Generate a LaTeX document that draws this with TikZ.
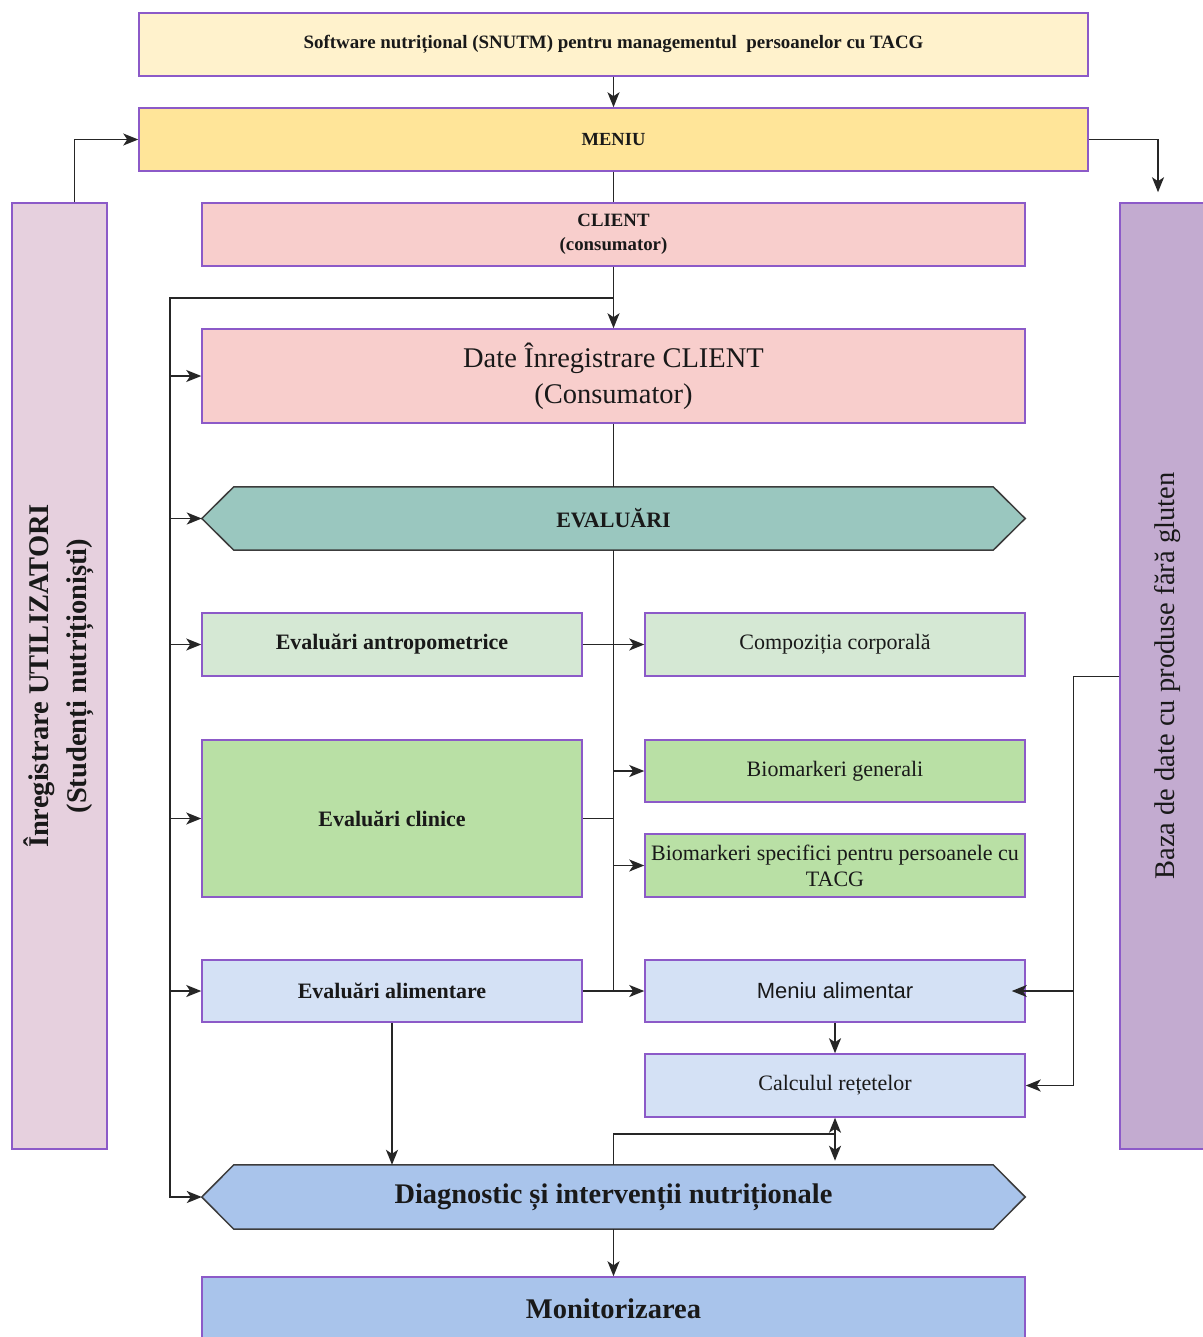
\documentclass[tikz,border=0pt]{standalone}
\usepackage{fontspec}
\setmainfont{Liberation Serif}
\newfontfamily\sansf{Liberation Sans}
\usetikzlibrary{arrows.meta,calc,backgrounds}
\definecolor{bord}{RGB}{140,90,200}
\definecolor{hexbord}{RGB}{60,60,60}
\definecolor{txt}{RGB}{25,25,25}
\definecolor{titlefill}{RGB}{255,242,204}
\definecolor{menufill}{RGB}{255,229,153}
\definecolor{clientfill}{RGB}{248,206,204}
\definecolor{evalfill}{RGB}{154,199,191}
\definecolor{lgreen}{RGB}{213,232,212}
\definecolor{mgreen}{RGB}{185,224,165}
\definecolor{lblue}{RGB}{212,225,245}
\definecolor{dblue}{RGB}{169,196,235}
\definecolor{leftfill}{RGB}{230,208,222}
\definecolor{rightfill}{RGB}{195,171,208}
\newcommand{\fsz}[2]{\fontsize{#1}{#2}\selectfont}
\begin{document}
\begin{tikzpicture}[x=1pt,y=-1pt,
  box/.style={draw=bord, line width=1.5pt, inner sep=0pt, align=center, text=txt},
  plainbox/.style={inner sep=0pt, align=center, text=txt},
  hexs/.style={draw=hexbord, line width=1.5pt},
  conn/.style={draw=black!85, line width=1.6pt},
  tipx/.tip={Stealth[length=15pt,width=12pt,inset=4pt]},
  arr/.style={conn, -tipx},
  darr/.style={conn, tipx-tipx},
  mid/.style={font=\fsz{22}{26}},
  midb/.style={font=\fsz{22}{26}\bfseries}]
\useasboundingbox (0,0) rectangle (1202,1337);
\begin{scope}[on background layer]
\fill[white] (0,0) rectangle (1202,1337);
\end{scope}

% top
\node[box, fill=titlefill, minimum width=949pt, minimum height=63pt, font=\fsz{18.9}{22}\bfseries] (title) at (613.5,44.5)
  {Software nutrițional (SNUTM) pentru managementul\ \ persoanelor cu TACG};
\node[box, fill=menufill, minimum width=949pt, minimum height=63pt, font=\fsz{18.5}{22}\bfseries] (menu) at (613.5,139.5)
  {MENIU};
\node[box, fill=clientfill, minimum width=823pt, minimum height=63pt, font=\fsz{18.8}{24}\bfseries] (client) at (613.5,234.5)
  {CLIENT\\(consumator)};
\node[box, fill=clientfill, minimum width=823pt, minimum height=94pt, font=\fsz{28.5}{36}] (date) at (613.5,376)
  {Date Înregistrare CLIENT\\(Consumator)};

% hexagon EVALUARI
\node[plainbox, minimum width=823pt, minimum height=63pt, midb] (eval) at (613.5,518.5)
  {EVALUĂRI};

% evaluations
\node[box, fill=lgreen, minimum width=380pt, minimum height=63pt, midb] (antro) at (392,644.5)
  {Evaluări antropometrice};
\node[box, fill=lgreen, minimum width=380pt, minimum height=63pt, mid] (compo) at (835,644.5)
  {Compoziția corporală};
\node[box, fill=mgreen, minimum width=380pt, minimum height=157pt, midb] (clin) at (392,818.5)
  {Evaluări clinice};
\node[box, fill=mgreen, minimum width=380pt, minimum height=62pt, mid] (biog) at (835,771)
  {Biomarkeri generali};
\node[box, fill=mgreen, minimum width=380pt, minimum height=63pt, mid] (bios) at (835,865.5)
  {Biomarkeri specifici pentru persoanele cu\\TACG};
\node[box, fill=lblue, minimum width=380pt, minimum height=62pt, midb] (alim) at (392,991)
  {Evaluări alimentare};
\node[box, fill=lblue, minimum width=380pt, minimum height=62pt, font=\sansf\fsz{22}{26}] (menal) at (835,991)
  {Meniu alimentar};
\node[box, fill=lblue, minimum width=380pt, minimum height=63pt, mid] (calc) at (835,1085.5)
  {Calculul rețetelor};

% diagnostic hexagon and monitoring
\node[plainbox, minimum width=823pt, minimum height=64pt, font=\fsz{28.4}{32}\bfseries] (diag) at (613.5,1197)
  {Diagnostic și intervenții nutriționale};
\node[box, fill=dblue, minimum width=823pt, minimum height=63pt, font=\fsz{28.5}{32}\bfseries] (monit) at (613.5,1308.5)
  {Monitorizarea};

% side boxes
\node[box, fill=leftfill, minimum width=95pt, minimum height=946pt] (left) at (59.5,676)
  {\rotatebox{90}{\fsz{28.5}{38}\bfseries\begin{tabular}{@{}c@{}}Înregistrare UTILIZATORI\\(Studenți nutriționiști)\end{tabular}}};
\node[box, fill=rightfill, minimum width=95pt, minimum height=946pt] (right) at (1167.5,676)
  {\rotatebox{90}{\fsz{28.5}{34}Baza de date cu produse fără gluten}};

% hexagon shapes on background
\begin{scope}[on background layer]
\draw[hexs, fill=evalfill] (eval.west) -- ($(eval.north west)+(32,0)$) -- ($(eval.north east)+(-32,0)$)
  -- (eval.east) -- ($(eval.south east)+(-32,0)$) -- ($(eval.south west)+(32,0)$) -- cycle;
\draw[hexs, fill=dblue] (diag.west) -- ($(diag.north west)+(32,0)$) -- ($(diag.north east)+(-32,0)$)
  -- (diag.east) -- ($(diag.south east)+(-32,0)$) -- ($(diag.south west)+(32,0)$) -- cycle;
\end{scope}

% connectors
\draw[arr] (title) -- (menu);
\draw[conn] (menu) -- (client);
\draw[arr] (client) -- (date);
\coordinate (j1) at ($(client.south)+(0,31)$);
\coordinate (bus) at ($(j1)+(-443.5,0)$);
\draw[arr] (j1) -- (bus) |- (diag.west);
\draw[arr] (bus |- date.west) -- (date.west);
\draw[arr] (bus |- eval.west) -- (eval.west);
\draw[arr] (bus |- antro.west) -- (antro.west);
\draw[arr] (bus |- clin.west) -- (clin.west);
\draw[arr] (bus |- alim.west) -- (alim.west);

\draw[conn] (date) -- (eval);
\draw[conn] (eval.south) -- (eval.south |- alim.east);
\draw[arr] (antro.east) -- (compo.west);
\draw[arr] (alim.east) -- (menal.west);
\draw[conn] (clin.east) -- (clin.east -| eval.south);
\draw[arr] (eval.south |- biog.west) -- (biog.west);
\draw[arr] (eval.south |- bios.west) -- (bios.west);
\draw[arr] (menal) -- (calc);

\coordinate (rj) at (1073,676);
\draw[conn, line width=1pt] (right.west) -- (rj) -- (rj |- calc.east);
\draw[arr] (rj |- menal.east) -- ([xshift=-14pt]menal.east);
\draw[arr] (rj |- calc.east) -- (calc.east);

\draw[arr] (alim.south) -- (alim.south |- diag.north);
\draw[conn] (diag.north) |- ($(calc.south)+(0,16)$);
\draw[darr] (calc.south) -- ++(0,43);
\draw[arr] (diag) -- (monit);

\draw[arr] ([xshift=15pt]left.north) |- (menu.west);
\draw[arr] (menu.east) -| ($(right.north)+(-9.5,-10)$);
\end{tikzpicture}
\end{document}
